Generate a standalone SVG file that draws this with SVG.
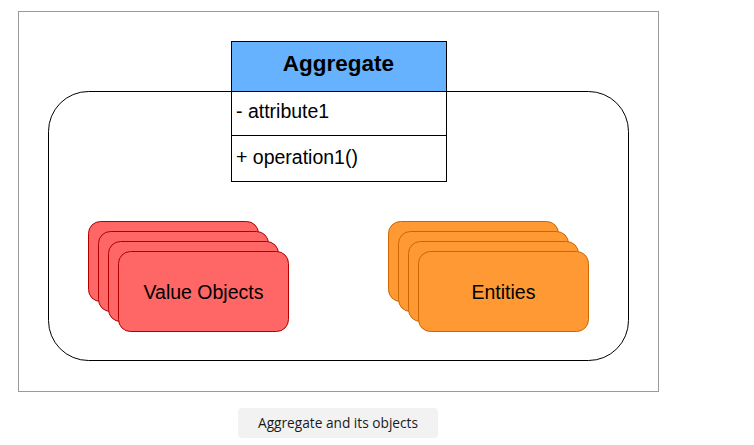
<svg xmlns="http://www.w3.org/2000/svg" width="754" height="445" viewBox="0 0 754 445">
<style>
.t{font-family:"Liberation Sans",Arial,sans-serif;fill:#000}
.vo{fill:#FF6666;stroke:#B20000;stroke-width:1}
.en{fill:#FF9933;stroke:#CC6600;stroke-width:1}
</style>
<rect width="754" height="445" fill="#fff"/>
<g id="frame"><rect x="18.5" y="11.5" width="640" height="380" fill="none" stroke="#9a9a9a"/></g>
<g id="container"><rect x="48.5" y="91.5" width="580" height="269" rx="40" ry="40" fill="#fff" stroke="#000"/></g>
<g id="aggregate">
<rect x="231.5" y="41.5" width="215" height="140" fill="#fff" stroke="#000"/>
<rect x="231.5" y="41.5" width="215" height="50" fill="#66B2FF" stroke="#000"/>
<line x1="231.5" y1="135.5" x2="446.5" y2="135.5" stroke="#000"/>
<text class="t" x="338.5" y="70.5" text-anchor="middle" font-size="22.5" font-weight="bold">Aggregate</text>
<text class="t" x="236" y="117.5" font-size="19.5">- attribute1</text>
<text class="t" x="236" y="164" font-size="19.5">+ operation1()</text>
</g>
<g id="value-objects">
<rect class="vo" x="88.5" y="221.5" width="170" height="80" rx="12"/>
<rect class="vo" x="98.5" y="231.5" width="170" height="80" rx="12"/>
<rect class="vo" x="108.5" y="241.5" width="170" height="80" rx="12"/>
<rect class="vo" x="118.5" y="251.5" width="170" height="80" rx="12"/>
<text class="t" x="203.5" y="298.5" text-anchor="middle" font-size="19.5">Value Objects</text>
</g>
<g id="entities">
<rect class="en" x="388.5" y="221.5" width="170" height="80" rx="12"/>
<rect class="en" x="398.5" y="231.5" width="170" height="80" rx="12"/>
<rect class="en" x="408.5" y="241.5" width="170" height="80" rx="12"/>
<rect class="en" x="418.5" y="251.5" width="170" height="80" rx="12"/>
<text class="t" x="503.5" y="298.5" text-anchor="middle" font-size="19.5">Entities</text>
</g>
<g id="connectors"/>
<g id="caption">
<rect x="238" y="408" width="200" height="30" rx="4" fill="#f2f2f2"/>
<text x="338" y="427.5" text-anchor="middle" font-size="13.7" font-family="'Open Sans','Noto Sans',sans-serif" fill="#1a1a1a">Aggregate and its objects</text>
</g>
</svg>
